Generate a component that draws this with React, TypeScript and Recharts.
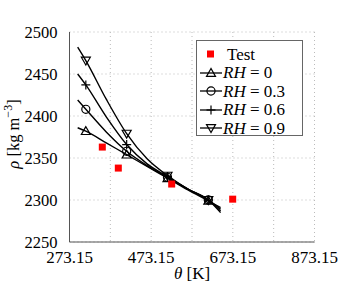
import React from 'react'
import {
  ComposedChart, Line, Scatter, XAxis, YAxis, CartesianGrid,
} from 'recharts'

const FONT = '"Liberation Serif", "DejaVu Serif", serif'

// temperature [K]
const temps = [293.15, 313.15, 363.15, 413.15, 463.15, 513.15, 563.15, 613.15, 643.15]
const markTemps = [313.15, 413.15, 513.15, 613.15]

// density [kg m^-3] per relative humidity
const rh0 = [2386, 2382, 2368, 2354, 2340, 2326, 2312, 2299, 2291]
const rh03 = [2419, 2408, 2381, 2358, 2341, 2327, 2313, 2300, 2289]
const rh06 = [2450, 2437, 2399, 2366, 2343, 2328, 2313, 2300, 2287]
const rh09 = [2482, 2466, 2420, 2379, 2349, 2329, 2313, 2300, 2285]

const testT = [353.5, 392.7, 523.4, 672.8]
const testRho = [2363, 2338, 2319, 2301]

const xTicks = [273.15, 373.15, 473.15, 573.15, 673.15, 773.15, 873.15]
const yTicks = [2250, 2300, 2350, 2400, 2450, 2500]

const series = [
  { name: '0', values: rh0, marker: 'up' },
  { name: '0.3', values: rh03, marker: 'circle' },
  { name: '0.6', values: rh06, marker: 'plus' },
  { name: '0.9', values: rh09, marker: 'down' },
]

const toRows = (vals: number[]) => temps.map((t, i) => ({ t, rho: vals[i] }))
const testRows = testT.map((t, i) => ({ t, rho: testRho[i] }))

function Marker({ kind, cx, cy }: { kind: string; cx: number; cy: number }) {
  const s = 4.5
  const st = { stroke: '#000', strokeWidth: 1.2, fill: 'none' }
  if (kind === 'up')
    return <polygon points={`${cx},${cy - s} ${cx - s},${cy + s * 0.75} ${cx + s},${cy + s * 0.75}`} {...st} />
  if (kind === 'down')
    return <polygon points={`${cx},${cy + s} ${cx - s},${cy - s * 0.75} ${cx + s},${cy - s * 0.75}`} {...st} />
  if (kind === 'circle') return <circle cx={cx} cy={cy} r={s * 0.9} {...st} />
  return (
    <g {...st}>
      <line x1={cx - s} y1={cy} x2={cx + s} y2={cy} />
      <line x1={cx} y1={cy - s} x2={cx} y2={cy + s} />
    </g>
  )
}

function LegendBox() {
  const row = { display: 'flex', alignItems: 'center', height: 18.5 }
  return (
    <div
      style={{
        position: 'absolute', left: 196, top: 40, width: 107, height: 96,
        border: '1px solid #666', background: '#fff', padding: '4px 0 0 2px',
        fontFamily: FONT, fontSize: 17, lineHeight: 1, boxSizing: 'border-box',
      }}
    >
      <div style={row}>
        <svg width={24} height={18}>
          <rect x={8} y={5.5} width={7} height={7} fill="#ff0000" />
        </svg>
        <span style={{ marginLeft: 4 }}>Test</span>
      </div>
      {series.map((s) => (
        <div key={s.name} style={row}>
          <svg width={24} height={18}>
            <line x1={1} y1={9} x2={23} y2={9} stroke="#000" strokeWidth={1.3} />
            <Marker kind={s.marker} cx={12} cy={9} />
          </svg>
          <span style={{ whiteSpace: 'nowrap' }}>
            <i>RH</i> = {s.name}
          </span>
        </div>
      ))}
    </div>
  )
}

export default function App() {
  return (
    <div style={{ position: 'absolute', left: 0, top: 0, width: 349, height: 291, background: '#fff' }}>
      <ComposedChart
        width={349}
        height={291}
        margin={{ top: 32, right: 34.5, bottom: 19, left: 0 }}
      >
        <CartesianGrid stroke="#bbb" strokeDasharray="1 3" />
        <XAxis
          type="number"
          dataKey="t"
          domain={[273.15, 873.15]}
          ticks={xTicks}
          tickFormatter={(v: number) => (Math.round(v - 273.15) % 200 === 0 ? v.toFixed(2) : '')}
          interval={0}
          height={30}
          tickLine={false}
          tickMargin={3}
          stroke="#555"
          tick={{ fill: '#000', fontFamily: FONT, fontSize: 17 }}
          allowDataOverflow
          label={() => (
            <text x={192} y={279} textAnchor="middle" fontFamily={FONT} fontSize={17} fill="#000">
              <tspan fontStyle="italic">θ</tspan> [K]
            </text>
          )}
        />
        <XAxis xAxisId="top" orientation="top" type="number" dataKey="t" domain={[273.15, 873.15]}
          ticks={[]} height={0} stroke="#555" />
        <YAxis
          type="number"
          domain={[2250, 2500]}
          ticks={yTicks}
          interval={0}
          width={69.5}
          tickLine={false}
          tickMargin={6}
          stroke="#555"
          tick={{ fill: '#000', fontFamily: FONT, fontSize: 16.5 }}
          label={() => (
            <text transform="rotate(-90, 19, 134)" x={19} y={134} textAnchor="middle"
              fontFamily={FONT} fontSize={16.5} fill="#000">
              <tspan fontStyle="italic">ρ</tspan> [kg m<tspan dy={-7} fontSize={12}>−3</tspan>
              <tspan dy={7}>]</tspan>
            </text>
          )}
        />
        <YAxis yAxisId="right" orientation="right" domain={[2250, 2500]} ticks={[]} width={0} stroke="#555" />
        {series.map((s) => (
          <Line
            key={s.name}
            data={toRows(s.values)}
            dataKey="rho"
            type="monotone"
            stroke="#000"
            strokeWidth={1.4}
            isAnimationActive={false}
            dot={(p: any) =>
              markTemps.includes(p.payload.t) ? (
                <Marker key={p.index} kind={s.marker} cx={p.cx} cy={p.cy} />
              ) : (
                <g key={p.index} />
              )
            }
            activeDot={false}
          />
        ))}
        <Scatter
          data={testRows}
          dataKey="rho"
          isAnimationActive={false}
          shape={(p: any) => <rect x={p.cx - 3.5} y={p.cy - 3.5} width={7} height={7} fill="#ff0000" />}
        />
      </ComposedChart>
      <LegendBox />
    </div>
  )
}
